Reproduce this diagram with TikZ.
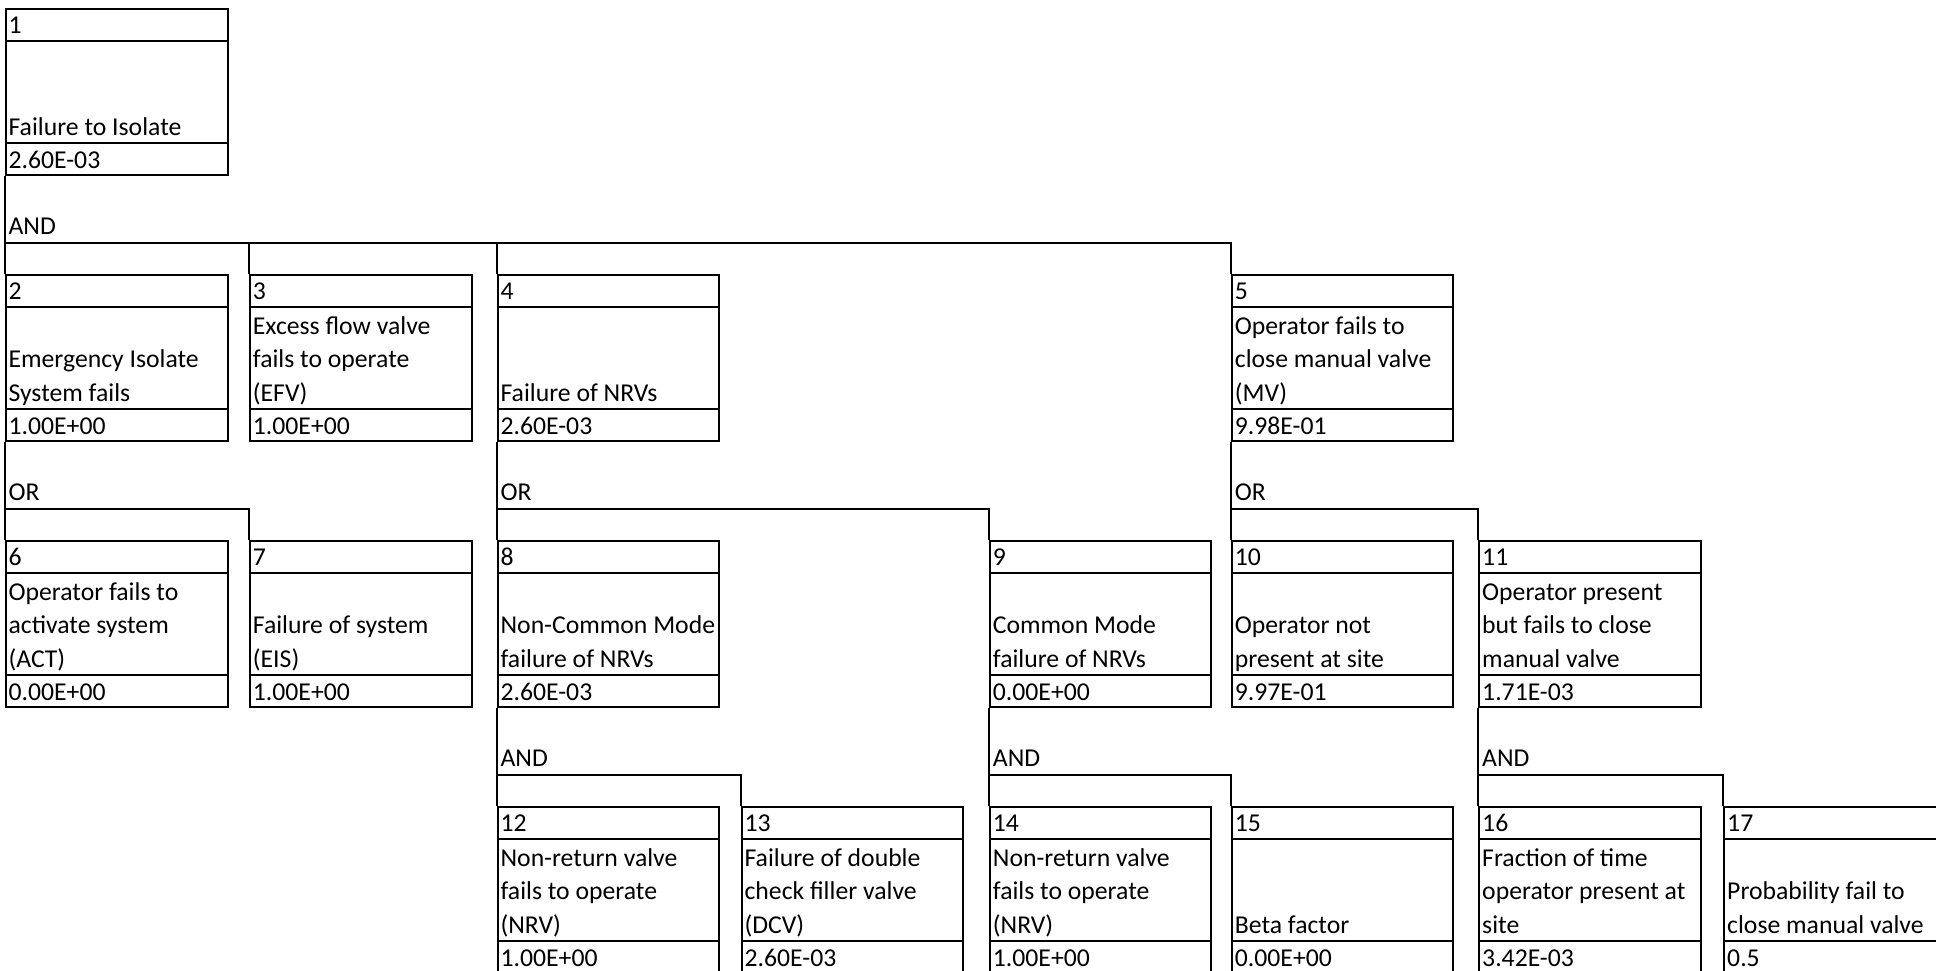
\documentclass[tikz,border=0pt]{standalone}
\usepackage{fontspec}
\setmainfont{Carlito}
\usetikzlibrary{calc,fit}
\tikzset{
  boxline/.style={draw=black, line width=1pt},
  conn/.style={draw=black, line width=0.85pt},
  txt/.style={anchor=base west, inner sep=0pt, font=\fontsize{12.85pt}{15.5pt}\selectfont},
}
% #1 name, #2 left, #3 right, #4 top row index, #5 number, #6 value, #7 number of description lines, #8 description lines
\newcommand\evbox[8]{%
  \pgfmathsetmacro\yt{9+33.25*#4}%
  \pgfmathsetmacro\yb{9+33.25*(#4+5)}%
  \node[fit={(#2,\yt) (#3,\yb)}, inner sep=0pt, boxline] (#1) {};
  \draw[boxline] ($(#1.north west)+(0,33.25)$) -- ($(#1.north east)+(0,33.25)$);
  \draw[boxline] ($(#1.south west)+(0,-33.25)$) -- ($(#1.south east)+(0,-33.25)$);
  \node[txt] (#1-num) at ($(#1.north west)+(3.5,25.25)$) {#5};
  \node[txt] (#1-val) at ($(#1.south west)+(3.5,-8)$) {#6};
  \foreach \l [count=\i] in {#8} {
    \node[txt] (#1-d\i) at ($(#1.south west)+(3.5,{-41.25-(#7-\i)*33.25})$) {\l};
  }
}
% #1 parent, #2 gate label, #3 first child, #4 other children
\newcommand\gate[4]{%
  \coordinate (#1-gate) at ($(#1.south west)+(0,66.5)$);
  \draw[conn] (#1.south west) -- (#3.north west);
  \node[txt] (#1-gl) at ($(#1-gate)+(3.5,-8)$) {#2};
  \foreach \c in {#4} {
    \draw[conn] (#1-gate) -| (\c.north west);
  }
}
\begin{document}
\begin{tikzpicture}[x=0.5pt,y=-0.5pt]
\clip (0,0) rectangle (1936,970);
\fill[white] (0,0) rectangle (1936,970);
% columns: A 5.7-227.7, C 250-471.7, E 497.7-719.3, G 741.7-963.3,
% I 990-1210.7, K 1232-1453, M 1479.3-1701, O 1724.3-1946
\evbox{b1}{5.7}{227.7}{0}{1}{2.60E-03}{1}{Failure to Isolate}
\evbox{b2}{5.7}{227.7}{8}{2}{1.00E+00}{2}{Emergency Isolate, System fails}
\evbox{b3}{250}{471.7}{8}{3}{1.00E+00}{3}{Excess flow valve, fails to operate, (EFV)}
\evbox{b4}{497.7}{719.3}{8}{4}{2.60E-03}{1}{Failure of NRVs}
\evbox{b5}{1232}{1453}{8}{5}{9.98E-01}{3}{Operator fails to, close manual valve, (MV)}
\evbox{b6}{5.7}{227.7}{16}{6}{0.00E+00}{3}{Operator fails to, activate system, (ACT)}
\evbox{b7}{250}{471.7}{16}{7}{1.00E+00}{2}{Failure of system, (EIS)}
\evbox{b8}{497.7}{719.3}{16}{8}{2.60E-03}{2}{Non-Common Mode, failure of NRVs}
\evbox{b9}{990}{1210.7}{16}{9}{0.00E+00}{2}{Common Mode, failure of NRVs}
\evbox{b10}{1232}{1453}{16}{10}{9.97E-01}{2}{Operator not, present at site}
\evbox{b11}{1479.3}{1701}{16}{11}{1.71E-03}{3}{Operator present, but fails to close, manual valve}
\evbox{b12}{497.7}{719.3}{24}{12}{1.00E+00}{3}{Non-return valve, fails to operate, (NRV)}
\evbox{b13}{741.7}{963.3}{24}{13}{2.60E-03}{3}{Failure of double, check filler valve, (DCV)}
\evbox{b14}{990}{1210.7}{24}{14}{1.00E+00}{3}{Non-return valve, fails to operate, (NRV)}
\evbox{b15}{1232}{1453}{24}{15}{0.00E+00}{1}{Beta factor}
\evbox{b16}{1479.3}{1701}{24}{16}{3.42E-03}{3}{Fraction of time, operator present at, site}
\evbox{b17}{1724.3}{1946}{24}{17}{0.5}{2}{Probability fail to, close manual valve}
\gate{b1}{AND}{b2}{b3,b4,b5}
\gate{b2}{OR}{b6}{b7}
\gate{b4}{OR}{b8}{b9}
\gate{b5}{OR}{b10}{b11}
\gate{b8}{AND}{b12}{b13}
\gate{b9}{AND}{b14}{b15}
\gate{b11}{AND}{b16}{b17}
\end{tikzpicture}
\end{document}
